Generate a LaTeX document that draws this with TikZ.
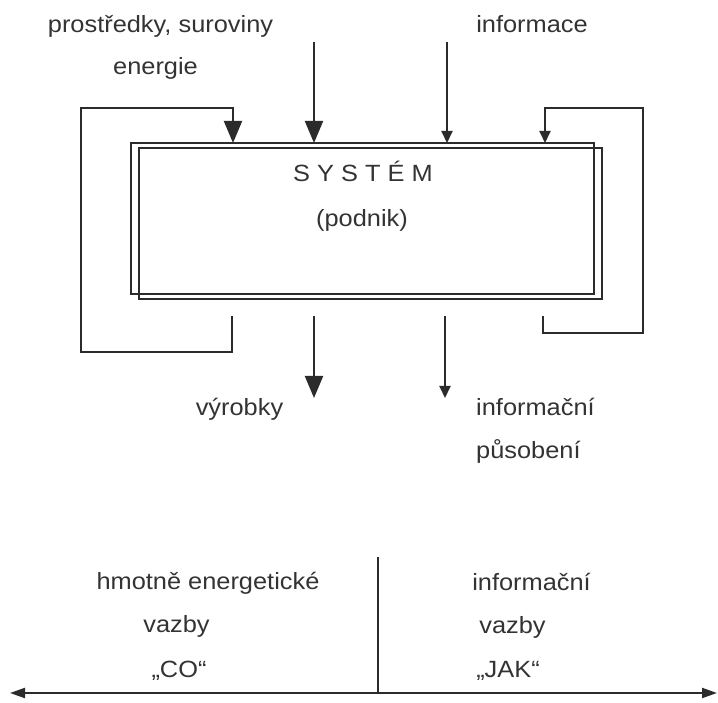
\documentclass[tikz,border=0pt]{standalone}
\usepackage{fontspec}
\setmainfont{Liberation Sans}[FakeStretch=1.08]
\usetikzlibrary{arrows.meta}
\definecolor{ink}{HTML}{2B2B2B}
\definecolor{txt}{HTML}{333333}
\begin{document}
\begin{tikzpicture}[x=1pt,y=-1pt,
  line/.style={draw=ink,line width=2pt},
  bigarrow/.style={line,-{Triangle[length=22pt,width=18pt]}},
  smallarrow/.style={line,-{Triangle[length=12pt,width=11pt]}},
  axisarrow/.style={line,{Triangle[length=15pt,width=10pt]}-{Triangle[length=15pt,width=10pt]}},
  sysbox/.style={line,rectangle,inner sep=0pt,outer sep=0pt,minimum width=463pt,minimum height=151pt},
  lbl/.style={text=txt,inner sep=0pt,anchor=base,font=\fontsize{23.5}{28}\selectfont},
  lblw/.style={lbl,anchor=base west}]
\useasboundingbox (0,0) rectangle (718,703);

% the system: two overlapping, offset frames
\node[sysbox] (sysb) at (370.5,223.5) {};
\node[sysbox] (sys) at (362.5,218.5) {};
\node[lbl] (systitle) at (363,182) {S Y S T É M};
\node[lbl] (sysnote) at (362,227) {(podnik)};

% inputs
\node[lbl] (inres) at (160.5,33) {prostředky, suroviny};
\node[lbl] (inen) at (155.5,75) {energie};
\node[lbl] (ininfo) at (532,33) {informace};
\coordinate (srcM) at (314,42);
\coordinate (srcI) at (447,42);
\draw[bigarrow] (srcM) -- (srcM |- sys.north);
\draw[smallarrow] (srcI) -- (srcI |- sys.north);

% feedback loops
\coordinate (fbL) at (232,316);
\coordinate (fbR) at (543,316);
\draw[bigarrow] (fbL) -- (232,352) -- (81,352) -- (81,108) -- (233,108) -- (233,143);
\draw[smallarrow] (fbR) -- (543,333) -- (643,333) -- (643,108) -- (545,108) -- (545,143);

% outputs
\coordinate (outM) at (314,316);
\coordinate (outI) at (445,316);
\draw[bigarrow] (outM) -- (314,398);
\draw[smallarrow] (outI) -- (445,398);
\node[lbl] (outprod) at (239.5,415) {výrobky};
\node[lblw] (outinfo1) at (476,415) {informační};
\node[lblw] (outinfo2) at (476,458) {působení};

% bottom scale: material vs. information links
\coordinate (axL) at (10,693);
\coordinate (axR) at (717,693);
\coordinate (divtop) at (378,557);
\draw[axisarrow] (axL) -- (axR);
\draw[line] (divtop) -- (divtop |- axL);
\node[lbl] (mat1) at (208,589) {hmotně energetické};
\node[lbl] (mat2) at (176.5,632) {vazby};
\node[lbl] (mat3) at (179,677) {„CO“};
\node[lbl] (inf1) at (531.5,590) {informační};
\node[lbl] (inf2) at (512.5,633) {vazby};
\node[lbl] (inf3) at (508,677) {„JAK“};
\end{tikzpicture}
\end{document}
